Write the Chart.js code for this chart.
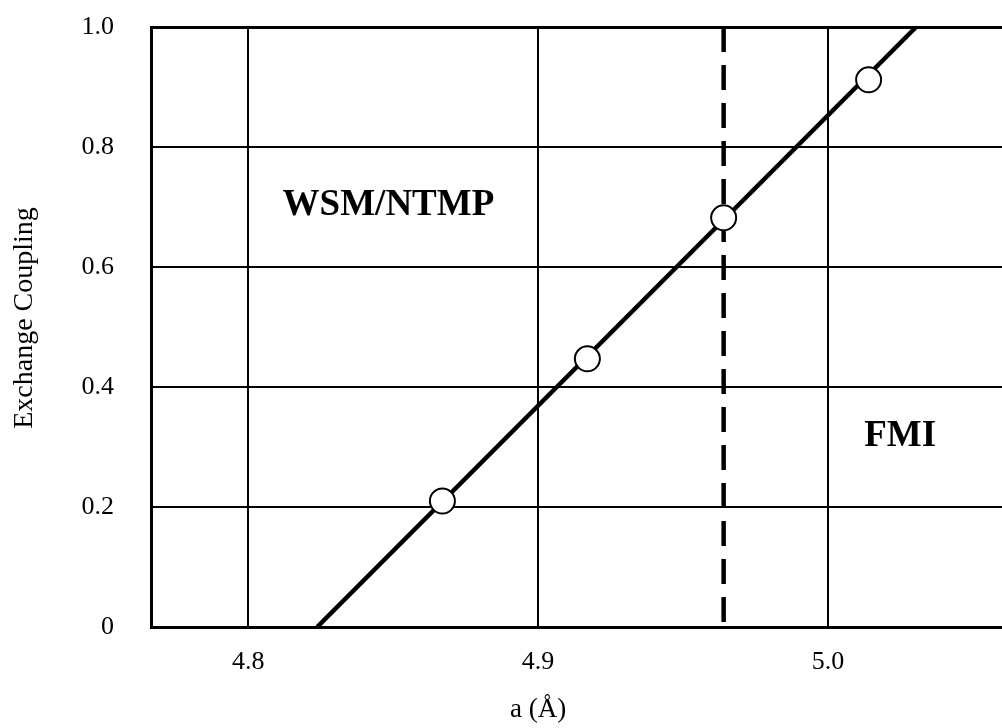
<!DOCTYPE html>
<html lang="en">
<head>
  <meta charset="UTF-8">
  <title>Exchange Coupling vs Lattice Constant</title>
  <script src="https://cdn.jsdelivr.net/npm/chart.js"></script>
  <style>
    html, body { margin: 0; padding: 0; background: #fff; }
    #wrap { width: 1002px; height: 728px; }
  </style>
</head>
<body>
  <div id="wrap"><canvas id="couplingChart"></canvas></div>
  <script>
    // Computed points: lattice constant a (Å) vs exchange coupling
    const latticeA = [4.867, 4.917, 4.964, 5.014];
    const coupling = [0.21, 0.447, 0.682, 0.912];

    // Linear fit drawn across the plot (end points at y = 0 and y = 1)
    const fitA = [4.8238, 5.0304];
    const fitJ = [0, 1];

    // Phase boundary (dashed vertical line)
    const boundaryA = 4.964;

    const xTicks = [4.8, 4.9, 5.0];
    const yTicks = [0, 0.2, 0.4, 0.6, 0.8, 1.0];

    // Region labels
    const regionLabels = ['WSM/NTMP', 'FMI'];
    const regionA = [4.8484, 5.0249];
    const regionJ = [0.703, 0.318];

    const serif = '"Liberation Serif", "Times New Roman", serif';

    const toXY = (xs, ys) => xs.map((x, i) => ({ x: x, y: ys[i] }));

    // region labels and axis titles go on top of everything
    const labelsPlugin = {
      id: 'labels',
      afterDraw(chart) {
        const { ctx, scales } = chart;
        ctx.save();
        ctx.fillStyle = '#000';
        ctx.textAlign = 'center';
        ctx.textBaseline = 'middle';
        ctx.font = 'bold 37px ' + serif;
        regionLabels.forEach((t, i) => {
          ctx.fillText(t, scales.x.getPixelForValue(regionA[i]), scales.y.getPixelForValue(regionJ[i]));
        });

        ctx.font = '27px ' + serif;
        ctx.fillText('a (\u00C5)', scales.x.getPixelForValue(4.9), 710);

        ctx.font = '28px ' + serif;
        ctx.translate(25, 318);
        ctx.rotate(-Math.PI / 2);
        ctx.fillText('Exchange Coupling', 0, 0);
        ctx.restore();
      }
    };

    new Chart(document.getElementById('couplingChart'), {
      type: 'scatter',
      data: {
        datasets: [
          {
            data: toXY(latticeA, coupling),
            pointRadius: 12.5,
            pointHoverRadius: 12.5,
            pointBackgroundColor: '#fff',
            pointBorderColor: '#000',
            pointBorderWidth: 2,
            showLine: false,
            order: 0
          },
          {
            data: toXY(fitA, fitJ),
            showLine: true,
            borderColor: '#000',
            borderWidth: 4.5,
            pointRadius: 0,
            order: 1
          },
          {
            data: [{ x: boundaryA, y: 1 }, { x: boundaryA, y: 0 }],
            showLine: true,
            borderColor: '#000',
            borderWidth: 4.5,
            borderDash: [25, 13],
            pointRadius: 0,
            order: 2
          }
        ]
      },
      options: {
        responsive: true,
        maintainAspectRatio: false,
        animation: false,
        layout: { autoPadding: false, padding: { top: 27, right: 0, left: 0, bottom: 0 } },
        plugins: {
          legend: { display: false },
          tooltip: { enabled: false }
        },
        scales: {
          x: {
            type: 'linear',
            min: 4.7665,
            max: 5.06,
            afterBuildTicks: (scale) => { scale.ticks = xTicks.map(v => ({ value: v })); },
            afterFit: (scale) => {
              scale.height = 101;
              scale.paddingLeft = 0;
              scale.paddingRight = 0;
            },
            ticks: {
              color: '#000',
              font: { family: serif, size: 26 },
              padding: 20,
              maxRotation: 0,
              callback: (v) => v.toFixed(1)
            },
            grid: { color: '#000', lineWidth: 2, drawTicks: false },
            border: { display: true, color: '#000', width: 3 }
          },
          y: {
            min: 0,
            max: 1,
            afterBuildTicks: (scale) => { scale.ticks = yTicks.map(v => ({ value: v })); },
            afterFit: (scale) => {
              scale.width = 151;
              scale.paddingTop = 0;
              scale.paddingBottom = 0;
            },
            ticks: {
              color: '#000',
              font: { family: serif, size: 26 },
              padding: 37,
              callback: (v) => (v === 0 ? '0' : v.toFixed(1))
            },
            grid: { color: '#000', lineWidth: (c) => (c.tick && c.tick.value === 1 ? 3 : 2), drawTicks: false },
            border: { display: true, color: '#000', width: 3 }
          }
        }
      },
      plugins: [labelsPlugin]
    });
  </script>
</body>
</html>
